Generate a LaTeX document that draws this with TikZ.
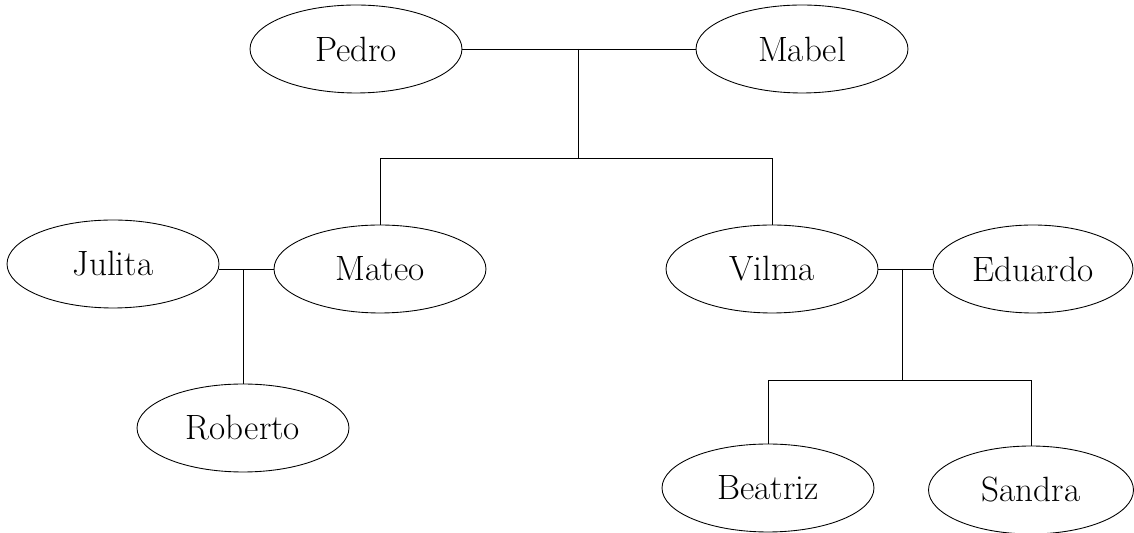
\documentclass[tikz,border=0pt]{standalone}
\usetikzlibrary{shapes.geometric}
\begin{document}
\begin{tikzpicture}[x=0.02cm, y=-0.02cm, line width=0.5pt,
  person/.style={ellipse, draw, inner sep=0pt, minimum width=4.24cm, minimum height=1.76cm, font=\fontsize{20}{24}\selectfont}]
\useasboundingbox (0,0) rectangle (1134,533);
\node[person] (pedro) at (356,49){Pedro};
\node[person] (mabel) at (802,49){Mabel};
\coordinate (pm) at (578,49);
\coordinate (pmbar) at (578,158);
\draw[](pedro) -- (mabel);
\draw[](pm) -- (pmbar);
\node[person] (julita) at (113,264){Julita};
\node[person] (mateo) at (380,269){Mateo};
\node[person] (roberto) at (243,428){Roberto};
\draw[](mateo.north) |- (pmbar);
\draw[](mateo.west) -- (mateo.west -| julita.east);
\draw[](roberto.north) -- (roberto.north |- mateo.west);
\node[person] (vilma) at (772,269){Vilma};
\node[person, minimum width=4cm] (eduardo) at (1033,269){Eduardo};
\draw[](vilma.north) |- (pmbar);
\draw[](vilma) -- (eduardo);
\coordinate (ve) at (902,269);
\coordinate (vebar) at (902,380);
\draw[](ve) -- (vebar);
\node[person] (beatriz) at (768,488){Beatriz};
\node[person, minimum width=4.1cm] (sandra) at (1031,490){Sandra};
\draw[](beatriz.north) |- (vebar);
\draw[](sandra.north) |- (vebar);
\end{tikzpicture}
\end{document}
